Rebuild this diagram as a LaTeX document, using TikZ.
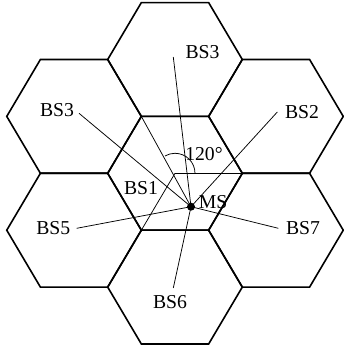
\documentclass[tikz,border=0pt]{standalone}
\usepackage{fontspec}
\setmainfont{Liberation Serif}
\usetikzlibrary{calc}
\begin{document}
\begin{tikzpicture}[x=1pt,y=1pt,
  hexedge/.style={line width=1.6pt, line join=miter},
  thin/.style={line width=0.75pt},
  lbl/.style={inner sep=0pt, font=\fontsize{19.7}{22}\selectfont}]
\useasboundingbox (0,0) rectangle (344,351);
\def\R{67.3}
\def\H{56.9}
% hexagon centers
\coordinate (c0) at (175,177.7);
\foreach \dx/\dy/\n in {0/0/0, 0/2/1, 0/-2/2, 1.5/1/3, 1.5/-1/4, -1.5/1/5, -1.5/-1/6}{
  \draw[hexedge] ($(c0)+(\dx*\R,\dy*\H)$) ++(\R,0) -- ++(-0.5*\R,\H) -- ++(-\R,0)
     -- ++(-0.5*\R,-\H) -- ++(0.5*\R,-\H) -- ++(\R,0) -- cycle;
}
% key points
\coordinate (ms) at (191,144.3);
\coordinate (vtl) at ($(c0)+(-0.5*\R,\H)$);
\coordinate (vr) at ($(c0)+(\R,0)$);
\coordinate (vbl) at ($(c0)+(-0.5*\R,-\H)$);
\coordinate (p3t) at (173.3,294);
\coordinate (p3l) at (79,237.7);
\coordinate (p2) at (277.3,239);
\coordinate (p5) at (76.7,122.7);
\coordinate (p7) at (278.3,122.7);
\coordinate (p6) at (173.3,63);
% labels
\node[lbl] (l3t) at (202.5,299.3) {BS3};
\node[lbl] (l3l) at (57,241) {BS3};
\node[lbl] (l2) at (302,239.3) {BS2};
\node[lbl] (l1) at (141,163) {BS1};
\node[lbl] (lms) at (213,149) {MS};
\node[lbl] (l5) at (53.3,122.7) {BS5};
\node[lbl] (l7) at (303,122.7) {BS7};
\node[lbl] (l6) at (170,49.3) {BS6};
\node[lbl] (lang) at (204,197) {120°};
% connectors
\draw[thin] (p3t) -- (ms);
\draw[thin] (p3l) -- (ms);
\draw[thin] (p2) -- (ms);
\draw[thin] (p5) -- (ms);
\draw[thin] (p7) -- (ms);
\draw[thin] (p6) -- (ms);
\draw[thin] (vtl) -- (ms);
\draw[thin] (c0) -- (vr);
\draw[thin] (c0) -- (vbl);
\draw[thin] ($(c0)+(20,0)$) arc[start angle=0, end angle=120, radius=20];
\fill (ms) circle[radius=4];
\end{tikzpicture}
\end{document}
